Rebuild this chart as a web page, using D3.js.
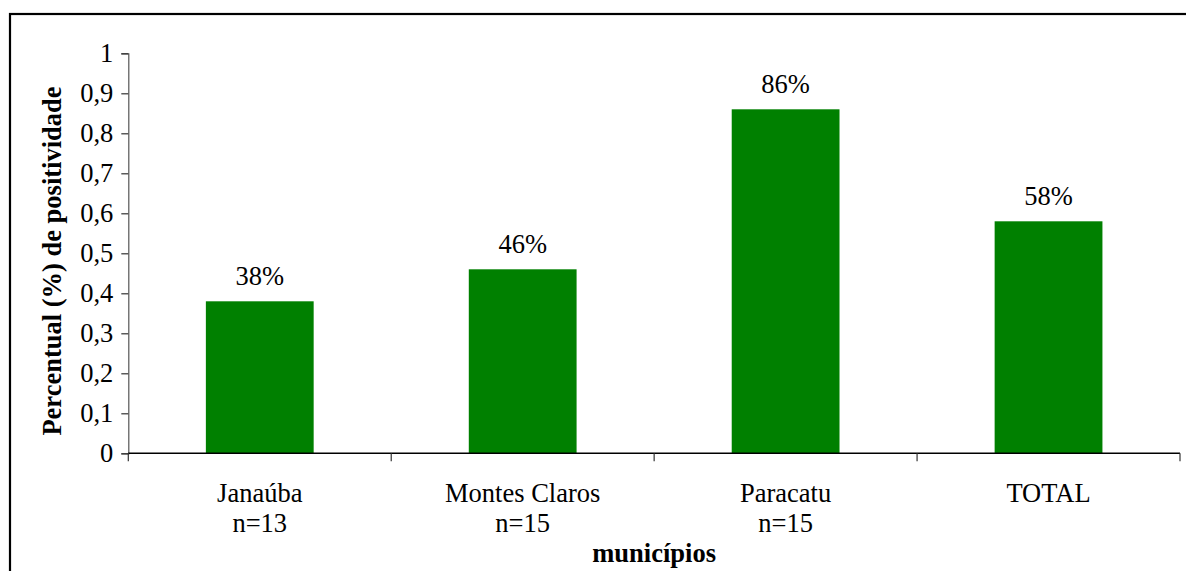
<!DOCTYPE html>
<html>
<head>
<meta charset="utf-8">
<script src="https://cdn.jsdelivr.net/npm/d3@7"></script>
<style>
  html, body { margin: 0; padding: 0; background: #fff; }
  svg { display: block; }
  text { font-family: "Liberation Serif", "Times New Roman", serif; fill: #000; }
</style>
</head>
<body>
<script>
// Municípios e percentual de positividade
const categories = ["Janaúba", "Montes Claros", "Paracatu", "TOTAL"];
const sampleSizes = ["n=13", "n=15", "n=15", ""];
const positivity = [0.38, 0.46, 0.86, 0.58];
const valueLabels = ["38%", "46%", "86%", "58%"];
const yTicks = [0, 0.1, 0.2, 0.3, 0.4, 0.5, 0.6, 0.7, 0.8, 0.9, 1];

const W = 1186, H = 571;
const plot = { left: 128.3, right: 1180, top: 53.3, bottom: 453.3 };
const FS = 26.5;

const svg = d3.select("body").append("svg")
  .attr("width", W).attr("height", H);

// outer frame
svg.append("rect")
  .attr("x", 10).attr("y", 14)
  .attr("width", 1200).attr("height", 600)
  .attr("fill", "none").attr("stroke", "#000").attr("stroke-width", 2.2);

const x = d3.scaleBand()
  .domain(categories)
  .range([plot.left, plot.right])
  .paddingInner(0.59).paddingOuter(0.295);

const xOuter = d3.scaleBand()
  .domain(categories)
  .range([plot.left, plot.right]);

const y = d3.scaleLinear().domain([0, 1]).range([plot.bottom, plot.top]);

// bars
svg.append("g").selectAll("rect")
  .data(categories)
  .join("rect")
  .attr("x", d => x(d))
  .attr("width", x.bandwidth())
  .attr("y", (d, i) => y(positivity[i]))
  .attr("height", (d, i) => y(0) - y(positivity[i]))
  .attr("fill", "#008000");

// value labels
svg.append("g").selectAll("text")
  .data(categories)
  .join("text")
  .attr("x", d => x(d) + x.bandwidth() / 2)
  .attr("y", (d, i) => y(positivity[i]) - 16)
  .attr("text-anchor", "middle")
  .attr("font-size", FS)
  .text((d, i) => valueLabels[i]);

// y axis
const yAxis = svg.append("g")
  .attr("transform", `translate(${plot.left},0)`)
  .call(d3.axisLeft(y).tickValues(yTicks)
    .tickFormat(d => d3.format(".1~f")(d).replace(".", ","))
    .tickSize(7).tickPadding(8));
yAxis.select(".domain").attr("stroke", "#555").attr("stroke-width", 1.2);
yAxis.selectAll(".tick line").attr("stroke", "#333").attr("stroke-width", 1.2);
yAxis.selectAll(".tick text")
  .attr("font-size", FS)
  .attr("fill", "#000");

// x axis line with boundary ticks
const xAxisG = svg.append("g");
xAxisG.append("line")
  .attr("x1", plot.left).attr("x2", plot.right)
  .attr("y1", y(0)).attr("y2", y(0))
  .attr("stroke", "#000").attr("stroke-width", 1.6);
const boundaries = categories.map(d => xOuter(d)).concat([plot.right]);
xAxisG.selectAll("line.b")
  .data(boundaries)
  .join("line")
  .attr("class", "b")
  .attr("x1", d => d).attr("x2", d => d)
  .attr("y1", y(0)).attr("y2", y(0) + 8)
  .attr("stroke", "#333").attr("stroke-width", 1.2);

// category labels
const catLabels = svg.append("g").selectAll("text")
  .data(categories)
  .join("text")
  .attr("x", d => xOuter(d) + xOuter.bandwidth() / 2)
  .attr("y", 501.5)
  .attr("text-anchor", "middle")
  .attr("font-size", FS);
catLabels.append("tspan").text(d => d);
catLabels.append("tspan")
  .attr("x", d => xOuter(d) + xOuter.bandwidth() / 2)
  .attr("dy", 30.8)
  .text((d, i) => sampleSizes[i]);

// axis titles
svg.append("text")
  .attr("x", (plot.left + plot.right) / 2)
  .attr("y", 562)
  .attr("text-anchor", "middle")
  .attr("font-size", FS)
  .attr("font-weight", "bold")
  .text("municípios");

svg.append("text")
  .attr("transform", `translate(61,261) rotate(-90)`)
  .attr("text-anchor", "middle")
  .attr("font-size", FS)
  .attr("font-weight", "bold")
  .text("Percentual (%) de positividade");
</script>
</body>
</html>
